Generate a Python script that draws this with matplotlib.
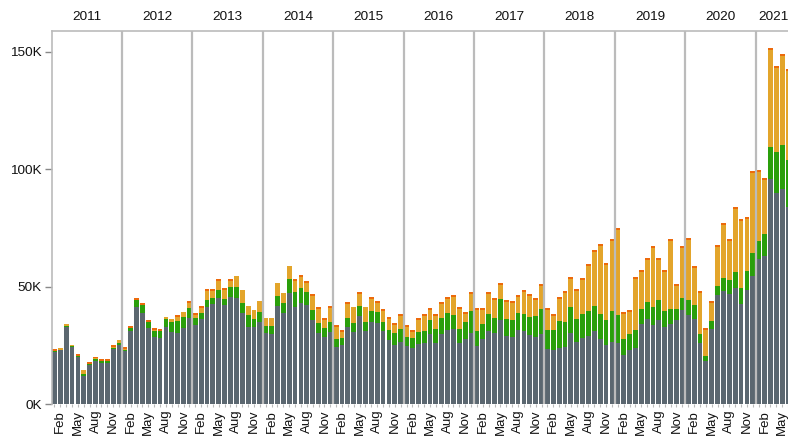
"""Monthly stacked bars by year, 2011 to mid 2021."""

import matplotlib

matplotlib.use("Agg")
import matplotlib.pyplot as plt
import numpy as np

plt.rcParams["font.family"] = ["Liberation Sans", "DejaVu Sans"]

years = [2011, 2012, 2013, 2014, 2015, 2016, 2017, 2018, 2019, 2020, 2021]
month_names = ["Jan", "Feb", "Mar", "Apr", "May", "Jun",
               "Jul", "Aug", "Sep", "Oct", "Nov", "Dec"]
shown_months = ["Feb", "May", "Aug", "Nov"]

# values in thousands, one entry per month, Jan 2011 .. Jun 2021
gray = [
    22.1, 23.1, 32.9, 24.3, 20.0, 12.1, 16.7, 18.6, 17.7, 17.7, 23.4, 25.1,
    22.8, 31.2, 41.3, 38.7, 32.6, 28.7, 28.4, 32.9, 30.8, 30.4, 32.6, 36.9,
    33.8, 36.2, 41.6, 42.7, 45.4, 42.1, 45.8, 45.4, 39.0, 33.0, 33.0, 35.2,
    30.2, 29.9, 42.0, 38.9, 47.2, 41.4, 43.0, 42.3, 36.0, 30.4, 28.5, 30.8,
    24.4, 25.2, 32.9, 30.8, 37.7, 31.3, 35.0, 34.6, 31.2, 27.5, 25.2, 26.5,
    24.8, 24.0, 25.7, 26.1, 29.9, 26.1, 29.9, 31.6, 32.1, 26.1, 27.8, 30.4,
    24.8, 28.0, 31.2, 30.4, 35.9, 29.1, 28.7, 31.6, 31.2, 29.5, 28.7, 29.9,
    23.5, 23.1, 24.0, 24.4, 30.4, 26.5, 28.2, 29.1, 31.2, 27.8, 25.2, 26.5,
    26.2, 21.0, 23.3, 24.1, 34.3, 36.5, 33.8, 36.0, 32.9, 34.3, 36.0, 40.3,
    38.0, 36.3, 26.1, 18.4, 32.1, 46.5, 48.2, 47.1, 49.6, 42.8, 48.8, 54.8,
    61.8, 63.1, 95.9, 89.9, 91.6, 84.0,
]
green = [
    0.7, 0.0, 0.4, 0.4, 0.7, 0.7, 0.4, 0.6, 0.7, 0.7, 0.7, 1.1,
    0.4, 1.3, 3.1, 3.4, 2.4, 2.6, 2.8, 3.3, 4.3, 5.1, 4.5, 4.1,
    3.1, 2.8, 2.8, 2.7, 3.3, 2.7, 4.0, 4.7, 4.3, 5.0, 3.3, 4.1,
    3.1, 3.4, 4.1, 4.3, 6.1, 6.4, 6.5, 5.5, 4.1, 4.3, 4.0, 4.3,
    3.4, 3.0, 3.8, 3.8, 4.1, 3.8, 4.7, 4.7, 3.8, 4.1, 5.1, 5.5,
    3.8, 4.3, 5.1, 5.1, 6.0, 6.0, 6.8, 7.2, 6.0, 6.0, 7.2, 9.4,
    6.4, 6.0, 7.2, 6.4, 8.9, 7.2, 7.2, 7.2, 7.2, 7.7, 8.9, 10.6,
    8.1, 8.5, 11.5, 10.6, 11.1, 9.8, 10.2, 10.6, 10.6, 10.6, 10.6, 13.2,
    11.8, 6.8, 6.7, 7.5, 6.2, 7.1, 7.7, 8.4, 6.8, 6.2, 4.5, 5.0,
    6.4, 6.0, 3.8, 2.1, 3.4, 3.8, 5.5, 5.8, 6.7, 6.7, 7.9, 9.6,
    7.7, 9.4, 13.6, 17.4, 18.7, 20.0,
]
orange = [
    0.0, 0.85, 0.85, 0.6, 0.0, 1.8, 0.0, 0.3, 0.0, 0.0, 0.4, 1.1,
    0.3, 0.0, 0.0, 0.0, 0.0, 0.4, 0.0, 1.0, 1.3, 1.7, 2.1, 2.0,
    1.1, 2.1, 3.8, 3.0, 3.8, 4.0, 2.7, 4.3, 5.4, 4.0, 3.8, 4.5,
    3.4, 3.4, 5.5, 4.3, 5.5, 4.7, 4.7, 3.8, 6.0, 6.0, 3.4, 6.0,
    5.1, 2.6, 6.0, 6.8, 5.1, 6.4, 5.1, 3.8, 4.7, 4.7, 3.4, 5.5,
    4.3, 2.6, 5.1, 6.4, 4.3, 5.5, 6.0, 6.0, 7.7, 8.5, 3.4, 7.2,
    8.9, 6.0, 8.5, 7.7, 6.0, 7.2, 7.4, 6.8, 9.4, 8.9, 6.8, 9.8,
    8.5, 6.0, 9.4, 12.3, 11.9, 11.9, 14.5, 19.1, 23.0, 28.9, 23.4, 29.8,
    36.2, 10.8, 9.1, 21.8, 15.7, 17.9, 25.1, 17.0, 16.6, 28.9, 9.8, 21.3,
    25.5, 15.7, 17.4, 11.1, 7.7, 16.6, 22.6, 16.6, 26.8, 28.5, 22.1, 34.0,
    29.4, 23.0, 41.3, 35.7, 37.9, 37.9,
]
red = [
    0.7, 0.0, 0.0, 0.0, 0.7, 0.0, 0.85, 0.7, 0.85, 0.85, 0.7, 0.0,
    0.7, 0.85, 0.85, 1.0, 0.85, 0.85, 0.85, 0.0, 0.0, 0.85, 0.0, 1.0,
    0.7, 0.7, 0.85, 0.7, 0.85, 0.7, 0.85, 0.0, 0.0, 0.0, 0.0, 0.0,
    0.0, 0.0, 0.0, 0.0, 0.0, 0.85, 0.85, 0.85, 0.85, 0.85, 0.85, 0.85,
    0.85, 0.85, 0.85, 0.0, 0.85, 0.0, 0.85, 0.85, 0.85, 0.85, 0.85, 0.85,
] + [0.85] * 66

series = [gray, green, orange, red]
colors = ["#5b6770", "#2a9f0b", "#e3a52b", "#ec6a0c"]

n = len(gray)
x = np.arange(n) + 0.5
month_of = [month_names[i % 12] for i in range(n)]

fig = plt.figure(figsize=(7.88, 4.38), dpi=100)
ax = fig.add_axes([51.5 / 788, 33.7 / 438, 736.5 / 788, 373.6 / 438])

bottom = np.zeros(n)
for vals, col in zip(series, colors):
    v = np.asarray(vals) * 1000
    ax.bar(x, v, width=0.82, bottom=bottom, color=col, linewidth=0, zorder=2)
    bottom += v

ax.set_xlim(0, 736.5 / 5.875)
ax.set_ylim(0, 159000)

# year dividers and headers
for k, yr in enumerate(years):
    if k > 0:
        ax.axvline(12 * k, color="#bbbbbb", lw=1.6, zorder=3)
    months_in_year = min(12, n - 12 * k)
    ax.text(12 * k + months_in_year / 2, 1.038, str(yr), transform=ax.get_xaxis_transform(),
            ha="center", va="center", fontsize=9.7, color="#111")

ax.set_yticks([0, 50000, 100000, 150000])
ax.set_yticklabels(["0K", "50K", "100K", "150K"])
ax.tick_params(axis="y", length=5, width=1, color="#888", labelsize=9.7,
               labelcolor="#111", pad=2)

ax.set_xticks(x)
ax.set_xticklabels([m if m in shown_months else "" for m in month_of], rotation=90)
ax.tick_params(axis="x", length=2.2, width=0.8, color="#bbbbbb", labelsize=9.5,
               labelcolor="#111", pad=1.8)

for side in ["bottom", "right"]:
    ax.spines[side].set_visible(False)
for side in ["top", "left"]:
    ax.spines[side].set_color("#bbbbbb")
    ax.spines[side].set_linewidth(1.2)

fig.savefig("out.png", dpi=100)
